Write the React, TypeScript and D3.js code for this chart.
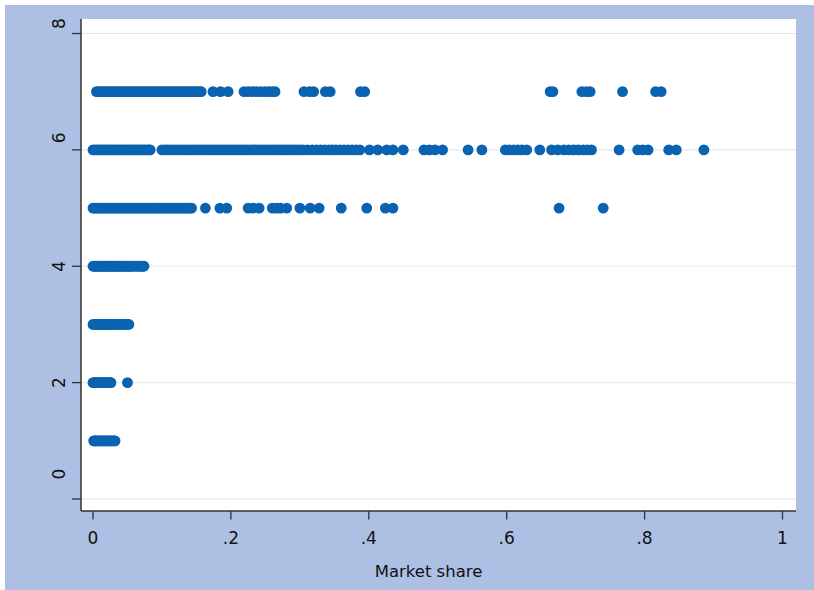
import React from "react";
import * as d3 from "d3";

const xTicks = [0, 0.2, 0.4, 0.6, 0.8, 1];
const xTickLabels = ["0", ".2", ".4", ".6", ".8", "1"];
const yTicks = [0, 2, 4, 6, 8];
const yTickLabels = ["0", "2", "4", "6", "8"];
const xTitle = "Market share";

const share1 = [0.001, 0.002, 0.004, 0.005, 0.007, 0.009, 0.010, 0.012, 0.014, 0.015, 0.017, 0.019, 0.020, 0.022, 0.024, 0.026, 0.027, 0.029, 0.031, 0.032];
const share2 = [0.000, 0.002, 0.003, 0.005, 0.007, 0.008, 0.010, 0.012, 0.013, 0.015, 0.017, 0.018, 0.020, 0.022, 0.023, 0.025, 0.026, 0.050];
const share3 = [0.000, 0.002, 0.003, 0.005, 0.007, 0.009, 0.010, 0.012, 0.014, 0.016, 0.017, 0.019, 0.021, 0.023, 0.024, 0.026, 0.028, 0.030, 0.033, 0.036, 0.038, 0.041, 0.044, 0.047, 0.050, 0.052];
const share4 = [0.000, 0.002, 0.004, 0.006, 0.008, 0.010, 0.012, 0.014, 0.016, 0.018, 0.020, 0.022, 0.024, 0.026, 0.028, 0.030, 0.032, 0.034, 0.036, 0.038, 0.041, 0.043, 0.045, 0.047, 0.049, 0.051, 0.053, 0.055, 0.058, 0.061, 0.064, 0.067, 0.070, 0.072, 0.074];
const share5 = [0.000, 0.003, 0.006, 0.009, 0.012, 0.015, 0.018, 0.021, 0.024, 0.027, 0.030, 0.033, 0.036, 0.039, 0.042, 0.045, 0.048, 0.051, 0.054, 0.057, 0.060, 0.063, 0.066, 0.069, 0.072, 0.075, 0.078, 0.081, 0.084, 0.087, 0.090, 0.093, 0.096, 0.099, 0.102, 0.105, 0.108, 0.111, 0.114, 0.117, 0.120, 0.123, 0.126, 0.129, 0.132, 0.135, 0.138, 0.141, 0.143,
  0.163, 0.184, 0.194, 0.225, 0.232, 0.241, 0.260, 0.266, 0.272, 0.281, 0.300, 0.315, 0.328, 0.360, 0.397, 0.424, 0.435, 0.676, 0.740];
const share6 = [0.000, 0.003, 0.006, 0.009, 0.012, 0.015, 0.018, 0.021, 0.024, 0.027, 0.030, 0.033, 0.036, 0.039, 0.042, 0.045, 0.048, 0.051, 0.054, 0.057, 0.060, 0.063, 0.066, 0.069, 0.072, 0.075, 0.078, 0.081, 0.083,
  0.100, 0.104, 0.108, 0.112, 0.116, 0.120, 0.124, 0.128, 0.132, 0.136, 0.140, 0.144, 0.148, 0.152, 0.156, 0.160, 0.164, 0.168, 0.172, 0.176, 0.180, 0.184, 0.188, 0.192, 0.196, 0.200, 0.204, 0.208, 0.212, 0.216, 0.220, 0.224, 0.228, 0.232, 0.236, 0.240, 0.244, 0.248, 0.252, 0.256, 0.260, 0.264, 0.268, 0.272, 0.276, 0.280, 0.284, 0.288, 0.292, 0.296, 0.300,
  0.305, 0.311, 0.318, 0.324, 0.330, 0.336, 0.342, 0.347, 0.352, 0.358, 0.364, 0.370, 0.376, 0.382, 0.387, 0.401, 0.413, 0.426, 0.435, 0.450,
  0.480, 0.488, 0.496, 0.507, 0.544, 0.564, 0.598, 0.604, 0.610, 0.616, 0.622, 0.629, 0.648, 0.665, 0.674, 0.683, 0.690, 0.697, 0.704, 0.711, 0.717, 0.723,
  0.763, 0.790, 0.797, 0.805, 0.835, 0.846, 0.886];
const share7 = [0.005, 0.008, 0.011, 0.014, 0.017, 0.020, 0.023, 0.026, 0.029, 0.032, 0.035, 0.038, 0.041, 0.044, 0.047, 0.050, 0.053, 0.056, 0.059, 0.062, 0.065, 0.068, 0.071, 0.074, 0.077, 0.080, 0.083, 0.086, 0.089, 0.092, 0.095, 0.098, 0.101, 0.104, 0.107, 0.110, 0.113, 0.116, 0.119, 0.122, 0.125, 0.128, 0.131, 0.134, 0.137, 0.140, 0.143, 0.146, 0.149, 0.152, 0.155, 0.157,
  0.174, 0.185, 0.196, 0.219, 0.225, 0.231, 0.237, 0.243, 0.249, 0.255, 0.260, 0.264,
  0.306, 0.314, 0.320, 0.337, 0.344, 0.388, 0.394, 0.663, 0.667, 0.709, 0.716, 0.721, 0.768, 0.816, 0.824];

const groups = [1, 2, 3, 4, 5, 6, 7];
const shares = [share1, share2, share3, share4, share5, share6, share7];

export default function App() {
  const W = 814, H = 590;
  const plot = { left: 81, right: 796, top: 19, bottom: 511 };
  const x = d3.scaleLinear().domain([0, 1]).range([93, 782.5]);
  const y = d3.scaleLinear().domain([0, 8]).range([499, 33.5]);
  const labelShift = [-25, 0, 0, -12, -10];
  const points = groups.flatMap((g, i) => shares[i].map((s) => ({ g, s })));
  const font = "'DejaVu Sans', Verdana, sans-serif";
  const axisColor = "#333333";
  return (
    <svg width={W} height={H} style={{ position: "absolute", left: 0, top: 0 }}>
      <rect x={0} y={0} width={W} height={H} fill="#ffffff" />
      <rect x={5} y={5} width={W - 5} height={H - 5} fill="#adbfe3" />
      <rect x={plot.left} y={plot.top} width={plot.right - plot.left} height={plot.bottom - plot.top} fill="#ffffff" />
      {yTicks.map((t) => (
        <line key={"g" + t} x1={plot.left} x2={plot.right} y1={y(t)} y2={y(t)} stroke="#e0ecf0" strokeWidth={1.2} />
      ))}
      {points.map((p, i) => (
        <circle key={i} cx={x(p.s)} cy={y(p.g)} r={5.4} fill="#0a63b0" />
      ))}
      <line x1={plot.left} x2={plot.left} y1={plot.top} y2={plot.bottom} stroke={axisColor} strokeWidth={1.5} />
      <line x1={plot.left} x2={plot.right} y1={plot.bottom} y2={plot.bottom} stroke={axisColor} strokeWidth={1.5} />
      {yTicks.map((t, i) => (
        <g key={"y" + t}>
          <line x1={plot.left - 9} x2={plot.left} y1={y(t)} y2={y(t)} stroke={axisColor} strokeWidth={1.3} />
          <text transform={`translate(65,${y(t) + labelShift[i]}) rotate(-90)`} textAnchor="middle" fontFamily={font} fontSize={17} fill="#111">
            {yTickLabels[i]}
          </text>
        </g>
      ))}
      {xTicks.map((t, i) => (
        <g key={"x" + t}>
          <line x1={x(t)} x2={x(t)} y1={plot.bottom} y2={plot.bottom + 8.5} stroke={axisColor} strokeWidth={1.3} />
          <text x={x(t)} y={544} textAnchor="middle" fontFamily={font} fontSize={17} fill="#111">
            {xTickLabels[i]}
          </text>
        </g>
      ))}
      <text x={428.5} y={577} textAnchor="middle" fontFamily={font} fontSize={16.5} fill="#111">
        {xTitle}
      </text>
    </svg>
  );
}
